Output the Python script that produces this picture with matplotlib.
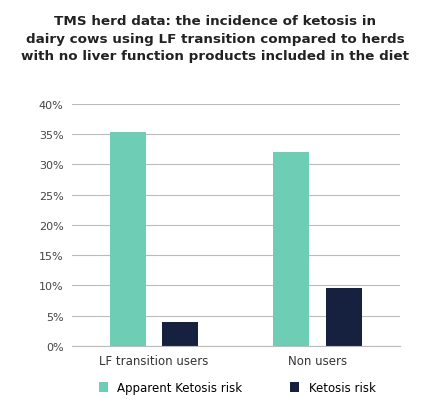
import matplotlib.pyplot as plt
import numpy as np

groups = ['LF transition users', 'Non users']
apparent = [35.4, 32.1]
ketosis = [3.9, 9.6]
yticks = [0, 5, 10, 15, 20, 25, 30, 35, 40]

teal = '#6dcdb5'
navy = '#16213f'

fig = plt.figure(figsize=(4.31, 4.14), dpi=100)
ax = fig.add_axes([0.167, 0.162, 0.76, 0.585])

x = np.arange(len(groups))
w = 0.22
ax.bar(x - 0.16, apparent, w, color=teal, label='Apparent Ketosis risk')
ax.bar(x + 0.16, ketosis, w, color=navy, label='Ketosis risk')

ax.set_ylim(0, 40)
ax.set_xlim(-0.5, 1.5)
ax.set_yticks(yticks)
ax.set_yticklabels([f'{t}%' for t in yticks], fontsize=8, color='#444444')
ax.set_xticks(x)
ax.set_xticklabels(groups, fontsize=8.5, color='#333333')
ax.grid(axis='y', color='#bbbbbb', linewidth=0.8)
ax.set_axisbelow(True)
for s in ['top', 'right', 'left']:
    ax.spines[s].set_visible(False)
ax.spines['bottom'].set_color('#bbbbbb')
ax.tick_params(length=0, pad=6)

fig.text(0.5, 0.905, 'TMS herd data: the incidence of ketosis in\n'
         'dairy cows using LF transition compared to herds\n'
         'with no liver function products included in the diet',
         ha='center', va='center', fontsize=9.7, fontweight='bold',
         color='#222222', linespacing=1.45)

fig.legend(loc='lower center', bbox_to_anchor=(0.55, 0.02), ncol=2,
           frameon=False, fontsize=8.5, handlelength=0.8, handleheight=0.8,
           columnspacing=4)

fig.savefig('out.png', dpi=100)
